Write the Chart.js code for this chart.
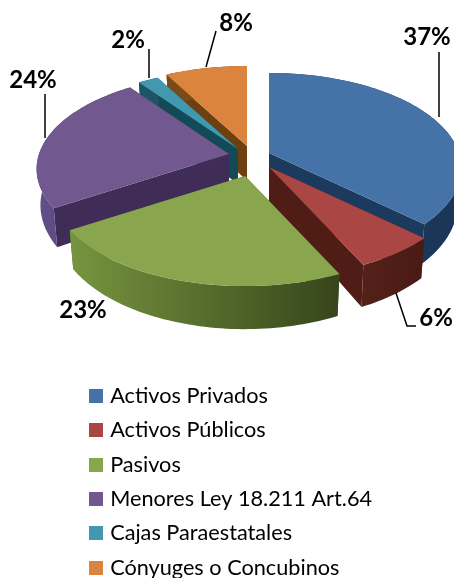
<!DOCTYPE html>
<html><head><meta charset="utf-8">
<style>html,body{margin:0;padding:0;background:#fff;overflow:hidden}#wrap{width:454px;height:578px}</style>
<script src="https://cdn.jsdelivr.net/npm/chart.js@4"></script>
</head><body><div id="wrap"><canvas id="c" width="454" height="578"></canvas></div>
<script>
const categories = ['Activos Privados','Activos Públicos','Pasivos','Menores Ley 18.211 Art.64','Cajas Paraestatales','Cónyuges o Concubinos'];
const shares = [37,6,23,24,2,8];
const topColors = ['#4572A7','#AA4643','#89A54E','#71588F','#4198AF','#DB843D'];
const innerColors = ['#1C3A5E','#4F1C16','#4A5F28','#3F2D58','#134A58','#6E4010'];
const rimLeft = ['#1F3F66','#54201A','#76953F','#64508A','#1E5565','#7A4A18'];
const rimRight = ['#1A3556','#4A1A14','#36451A','#4C3968','#1E5565','#7A4A18'];
const sliceShift = [[21,-5],[21,9],[-3,18],[-19,-4],[-10,-9],[-1,-12]];
const drawOrder = [5,4,0,3,1,2];
const labelSpots = [[427,37],[83,310],[436,318],[33,80],[128,40],[236,23]];
const labelOrder = [0,2,1,3,4,5];
const leaders = [[[439,52],[439,117]],[[216,31],[206,67]],[[149,49],[149,78]],[[45,94],[45,138]],[[396,293],[407,326],[416,326]]];
const K = 0.158, G = 0.488, H = 35, FOOT = 0.98, FONT = 'Lato, Carlito, sans-serif';

function swatch(color){const s=document.createElement('canvas');s.width=14;s.height=14;const x=s.getContext('2d');x.fillStyle=color;x.fillRect(0,0,14,14);return s;}

const pie3d = {
  id:'pie3d',
  afterLayout(chart){
    const l = chart.legend;
    l.left = 80.6; l.top = 372.3; l.bottom = 700; l.right = 454;
  },
  beforeDatasetDraw(chart,args){
    const ctx = chart.ctx, arcs = chart.getDatasetMeta(args.index).data;
    const pt = (i,theta,f)=>{
      const a = arcs[i], R = a.outerRadius, w = 1 + K*Math.cos(theta)*f;
      return {x:a.x+sliceShift[i][0]+R*Math.sin(theta)*f/w, y:a.y+sliceShift[i][1]-R*G*Math.cos(theta)*f/w, w};
    };
    const low = (i,theta,f)=>{
      const p = pt(i,theta,f), ax = arcs[i].x+sliceShift[i][0];
      return {x:ax+(p.x-ax)*FOOT, y:p.y+H/Math.pow(p.w,1.2)};
    };
    const poly = (pts,fill)=>{ctx.beginPath();pts.forEach((p,n)=>n?ctx.lineTo(p.x,p.y):ctx.moveTo(p.x,p.y));ctx.closePath();ctx.fillStyle=fill;ctx.fill();};
    for(const i of drawOrder){
      const a = arcs[i], t0 = a.startAngle+Math.PI/2, t1 = a.endAngle+Math.PI/2;
      const n = Math.max(4,Math.ceil((t1-t0)*40));
      const ths = []; for(let j=0;j<=n;j++) ths.push(t0+(t1-t0)*j/n);
      poly([pt(i,t0,0),pt(i,t0,1),low(i,t0,1),low(i,t0,0)],innerColors[i]);
      poly([pt(i,t1,0),pt(i,t1,1),low(i,t1,1),low(i,t1,0)],innerColors[i]);
      const tops = ths.map(t=>pt(i,t,1)), bots = ths.map(t=>low(i,t,1));
      const xs = tops.map(p=>p.x), g = ctx.createLinearGradient(Math.min(...xs),0,Math.max(...xs),0);
      g.addColorStop(0,rimLeft[i]); g.addColorStop(1,rimRight[i]);
      poly(tops.concat(bots.slice().reverse()),g);
      poly([pt(i,t0,0)].concat(tops),topColors[i]);
    }
    return false;
  },
  afterDatasetsDraw(chart){
    const ctx = chart.ctx;
    ctx.save();
    ctx.strokeStyle='#000';ctx.lineWidth=1.5;
    for(const l of leaders){ctx.beginPath();l.forEach((p,n)=>n?ctx.lineTo(p[0],p[1]):ctx.moveTo(p[0],p[1]));ctx.stroke();}
    ctx.fillStyle='#000';ctx.font='bold 24px '+FONT;ctx.textAlign='center';ctx.textBaseline='middle';
    shares.forEach((v,i)=>{const s=labelSpots[labelOrder.indexOf(i)];ctx.fillText(v+'%',s[0],s[1]);});
    ctx.restore();
  }
};

new Chart(document.getElementById('c'),{
  type:'pie',
  data:{labels:categories,datasets:[{data:shares,backgroundColor:topColors,borderWidth:0}]},
  options:{
    responsive:false,animation:false,radius:190,
    layout:{padding:{left:42,bottom:262}},
    plugins:{
      tooltip:{enabled:false},
      legend:{
        position:'chartArea',align:'start',
        labels:{
          color:'#000',font:{family:FONT,size:21.7},padding:12.7,
          usePointStyle:true,pointStyleWidth:6,boxHeight:14,
          generateLabels:()=>categories.map((c,i)=>({text:c,pointStyle:swatch(topColors[i]),fillStyle:topColors[i],lineWidth:0,hidden:false,index:i,fontColor:'#000'}))
        }
      }
    }
  },
  plugins:[pie3d]
});
</script></body></html>
